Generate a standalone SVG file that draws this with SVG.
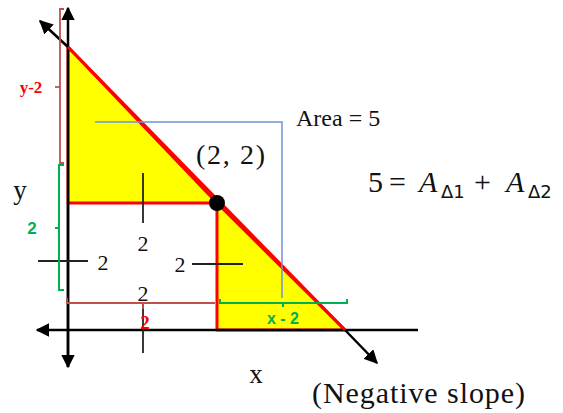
<svg xmlns="http://www.w3.org/2000/svg" width="563" height="413" viewBox="0 0 563 413">
<defs>
<marker id="ah" viewBox="0 0 10 10" refX="9" refY="5" markerWidth="5.5" markerHeight="5.5" orient="auto" markerUnits="strokeWidth">
<path d="M0,0 L10,5 L0,10 Z" fill="#000"/>
</marker>
</defs>
<style>
.ax{stroke:#000;stroke-width:2.5;fill:none}
.tk{stroke:#222;stroke-width:1.8;fill:none}
.tri{fill:#ffff00;stroke:#ff0000;stroke-width:3;stroke-linejoin:round}
.br{stroke:#c0504d;stroke-width:1.8;fill:none}
.bg{stroke:#00b050;stroke-width:2;fill:none}
.bl{stroke:#6f93d6;stroke-width:1.5;fill:none}
.t{font-family:"Liberation Serif",serif;fill:#111}
.lr{font-family:"Liberation Serif",serif;font-weight:bold;fill:#ff0000}
.lg{font-family:"Liberation Sans",sans-serif;font-weight:bold;fill:#00b050}
.sub{font-family:"DejaVu Sans",sans-serif;font-size:18px}
</style>
<rect width="563" height="413" fill="#fff"/>
<g id="triangle1"><polygon class="tri" points="68,47 217,203 68,203"/></g>
<g id="triangle2"><polygon class="tri" points="217,203 217,330 345,330"/></g>
<g id="connectors">
<line class="ax" x1="68" y1="367" x2="68" y2="8" marker-end="url(#ah)"/>
<line class="ax" x1="68" y1="203" x2="68" y2="367" marker-end="url(#ah)"/>
<line class="ax" x1="418" y1="330" x2="37" y2="330" marker-end="url(#ah)"/>
<line class="ax" x1="68" y1="47" x2="40" y2="21" marker-end="url(#ah)"/>
<line class="ax" x1="345" y1="330" x2="377" y2="363" marker-end="url(#ah)"/>
<line x1="68" y1="47" x2="345" y2="330" stroke="#ff0000" stroke-width="3"/>
<line class="tk" x1="143" y1="173" x2="143" y2="223"/>
<line class="tk" x1="38" y1="261" x2="88" y2="261"/>
<line class="tk" x1="192" y1="264" x2="243" y2="264"/>
<line class="tk" x1="143" y1="303" x2="143" y2="353"/>
<polyline class="bl" points="95,122 282,122 282,298"/>
<polyline class="br" points="64,9 60,9 60,163 64,163"/>
<line class="br" x1="55" y1="87" x2="60" y2="87"/>
<polyline class="bg" points="64,165 59,165 59,290 64,290"/>
<line class="bg" x1="55" y1="228" x2="59" y2="228"/>
<polyline class="br" points="67,298 67,303 215,303"/>
<line class="br" x1="143" y1="303" x2="143" y2="309"/>
<polyline class="bg" points="220,299 220,303 347,303 347,299"/>
<line class="bg" x1="283" y1="303" x2="283" y2="307"/>
</g>
<g id="point"><circle cx="217" cy="203" r="8" fill="#000"/></g>
<g id="labels">
<text class="lr" x="31" y="93" font-size="17" text-anchor="middle">y-2</text>
<text class="lg" x="32" y="234" font-size="17" text-anchor="middle">2</text>
<text class="lr" x="145" y="329" font-size="19" text-anchor="middle">2</text>
<text class="lg" x="283" y="324" font-size="16" text-anchor="middle">x - 2</text>
<text class="t" x="143" y="251" font-size="22" text-anchor="middle">2</text>
<text class="t" x="103" y="270" font-size="22" text-anchor="middle">2</text>
<text class="t" x="180" y="272" font-size="22" text-anchor="middle">2</text>
<text class="t" x="143" y="301" font-size="22" text-anchor="middle">2</text>
<text class="t" x="20" y="199" font-size="27" text-anchor="middle">y</text>
<text class="t" x="256" y="383" font-size="27" text-anchor="middle">x</text>
<text class="t" x="196" y="164" font-size="28" textLength="69">(2, 2)</text>
<text class="t" x="296" y="126" font-size="24">Area = 5</text>
<text class="t" x="312" y="403" font-size="30" textLength="213">(Negative slope)</text>
<text class="t" y="192" font-size="30"><tspan x="368">5</tspan><tspan x="389">=</tspan><tspan x="419" font-style="italic">A</tspan><tspan x="441" class="sub" dy="6">Δ1</tspan><tspan x="474" dy="-6">+</tspan><tspan x="506" font-style="italic">A</tspan><tspan x="528" class="sub" dy="6">Δ2</tspan></text>
</g>
</svg>
